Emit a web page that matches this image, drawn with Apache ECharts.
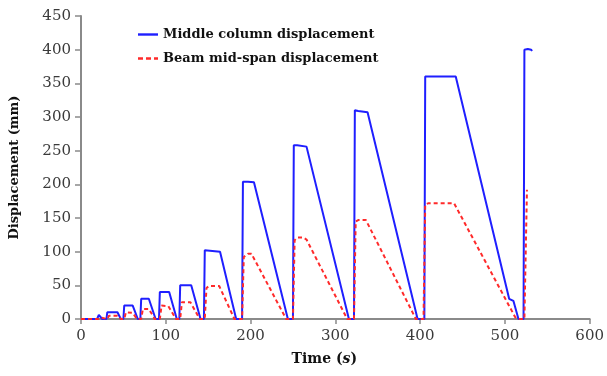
<!DOCTYPE html>
<html>
<head>
<meta charset="utf-8">
<script src="https://cdn.jsdelivr.net/npm/echarts@6/dist/echarts.min.js"></script>
<style>
html,body{margin:0;padding:0;background:#fff;}
#chart{width:607px;height:376px;}
</style>
</head>
<body>
<div id="chart"></div>
<script>
// Middle column displacement (mm) vs time (s)
const columnTime = [0,19,21,23,25, 30,31,43,47, 50,51,61,67, 70,71,80,88, 92,93,104,113, 116,117,130,141, 145,146,147,164,183, 190,191,197,204,244, 250,251,255,266,316, 322,323,327,329,338,397, 405,406,410,442,505,507,510,516, 522,523,527,531,532];
const columnDisp = [0,0,6,6,0, 0,10,10,0, 0,20,20,0, 0,30,30,0, 0,40,40,0, 0,50,50,0, 0,102,101,100,0, 0,204,204,203,0, 0,258,258,256,0, 0,310,309,308,307,0, 0,360,360,360,30,29,27,0, 0,400,401,400,398];
// Beam mid-span displacement (mm) vs time (s)
const beamTime = [0,20,22,24,26, 31,33,43,47, 51,53,61,66, 71,73,80,87, 93,95,103,112, 117,119,129,140, 146,148,151,163,181, 190,192,197,201,242, 250,252,255,262,266,314, 322,324,327,336,395, 404,406,410,440,512,515, 523,526];
const beamDisp = [0,0,2,2,0, 0,5,5,0, 0,10,9,0, 0,15,15,0, 0,20,19,0, 0,25,25,0, 0,46,49,49,0, 0,92,97,97,0, 0,117,121,121,118,0, 0,145,147,147,0, 0,170,172,172,3,0, 0,192];

const seriesNames = ['Middle column displacement', 'Beam mid-span displacement'];
const yAxisName = 'Displacement (mm)';

function pairs(t, v){ return t.map((x,i)=>[x, v[i]]); }

const chart = echarts.init(document.getElementById('chart'), null, {renderer:'canvas'});
const font = 'DejaVu Serif';
const axisGray = '#8a8a8a';
const blue = '#1f1fff', red = '#ff2a2a';
chart.setOption({
  animation:false,
  backgroundColor:'#ffffff',
  grid:{left:81,right:11,top:16,bottom:57},
  legend:{
    orient:'vertical', left:133, top:23, itemWidth:20, itemHeight:3, itemGap:11,
    textStyle:{fontFamily:font, fontWeight:'bold', fontSize:13, color:'#111'},
    data:[
      {name:seriesNames[0], icon:'path://M0,0H20V2.4H0Z', itemStyle:{color:blue}},
      {name:seriesNames[1], icon:'path://M0,0H5V2.4H0Z M8,0H13V2.4H8Z M16,0H20V2.4H16Z', itemStyle:{color:red}}
    ]
  },
  xAxis:{
    type:'value', min:0, max:600, interval:100,
    name:'Time ({i|s})', nameLocation:'middle', nameGap:33,
    nameTextStyle:{fontFamily:font, fontWeight:'bold', fontSize:14, color:'#111', padding:[0,22,0,0],
      rich:{i:{fontFamily:font, fontWeight:'bold', fontStyle:'italic', fontSize:14, color:'#111'}}},
    axisLine:{lineStyle:{color:axisGray, width:2}},
    axisTick:{show:true, length:5, lineStyle:{color:axisGray, width:1.5}},
    axisLabel:{fontFamily:font, fontSize:15, color:'#3a3a3a', margin:10},
    splitLine:{show:false}
  },
  yAxis:{
    type:'value', min:0, max:450, interval:50,
    name:yAxisName, nameLocation:'middle', nameGap:60, nameRotate:90,
    nameTextStyle:{fontFamily:font, fontWeight:'bold', fontSize:13, color:'#111'},
    axisLine:{show:true, lineStyle:{color:axisGray, width:2}},
    axisTick:{show:true, length:6, lineStyle:{color:axisGray, width:1.5}},
    axisLabel:{fontFamily:font, fontSize:15, color:'#3a3a3a', margin:10},
    splitLine:{show:false}
  },
  series:[
    {name:seriesNames[0], type:'line', symbol:'none', data:pairs(columnTime, columnDisp),
     lineStyle:{color:blue, width:2}, itemStyle:{color:blue}, z:2},
    {name:seriesNames[1], type:'line', symbol:'none', data:pairs(beamTime, beamDisp),
     lineStyle:{color:red, width:2, type:[4,3]}, itemStyle:{color:red}, z:3}
  ]
});
</script>
</body>
</html>
